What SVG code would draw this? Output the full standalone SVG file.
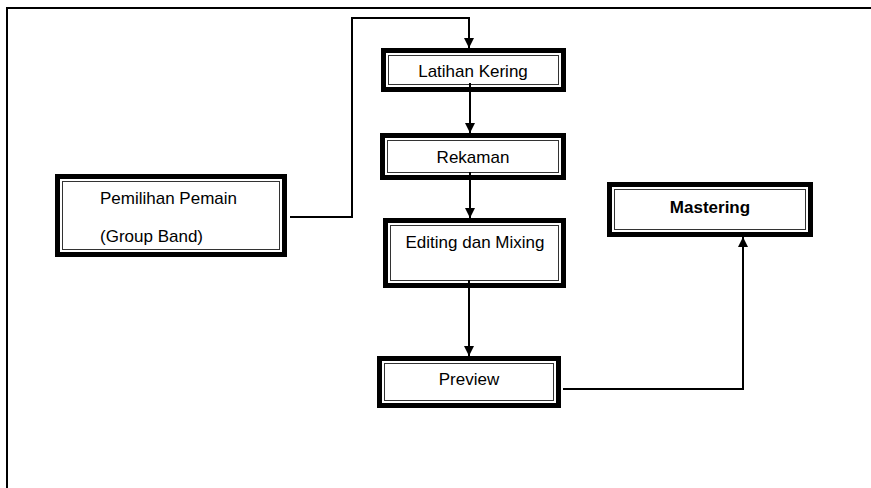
<svg xmlns="http://www.w3.org/2000/svg" width="871" height="488" viewBox="0 0 871 488">
<style>
.outer{fill:#000}
.gap{fill:#fff}
.inner{fill:#fff;stroke:#333;stroke-width:1}
.lbl{font-family:"Liberation Sans",Arial,sans-serif;font-size:17px;fill:#000}
.bold{font-weight:bold}
.conn{fill:none;stroke:#000;stroke-width:2}
.frame{fill:none;stroke:#000;stroke-width:2}
</style>
<defs>
<marker id="arr" viewBox="0 0 10 10" refX="10" refY="5" markerWidth="11" markerHeight="10" markerUnits="userSpaceOnUse" orient="auto">
<path d="M0,0 L10,5 L0,10 z" fill="#000"/>
</marker>
</defs>
<rect width="871" height="488" fill="#fff"/>
<path class="frame" d="M7,488 V8 H871"/>

<g id="latihan">
<rect class="outer" x="381" y="48" width="185" height="44"/>
<rect class="gap" x="386" y="53" width="175" height="34"/>
<rect class="inner" x="388.5" y="55.5" width="170" height="29"/>
<text class="lbl" x="473" y="77" text-anchor="middle">Latihan Kering</text>
</g>
<g id="rekaman">
<rect class="outer" x="380" y="133" width="186" height="47"/>
<rect class="gap" x="385" y="138" width="176" height="37"/>
<rect class="inner" x="387.5" y="140.5" width="171" height="32"/>
<text class="lbl" x="473" y="163" text-anchor="middle">Rekaman</text>
</g>
<g id="editing">
<rect class="outer" x="383" y="218" width="183" height="70"/>
<rect class="gap" x="388" y="223" width="173" height="60"/>
<rect class="inner" x="390.5" y="225.5" width="168" height="55"/>
<text class="lbl" x="475" y="248" text-anchor="middle">Editing dan Mixing</text>
</g>
<g id="pemilihan">
<rect class="outer" x="55" y="174" width="232" height="83"/>
<rect class="gap" x="60" y="179" width="222" height="73"/>
<rect class="inner" x="62.5" y="181.5" width="217" height="68"/>
<text class="lbl" x="100" y="204">Pemilihan Pemain</text>
<text class="lbl" x="100" y="242">(Group Band)</text>
</g>
<g id="preview">
<rect class="outer" x="377" y="356" width="184" height="52"/>
<rect class="gap" x="382" y="361" width="174" height="42"/>
<rect class="inner" x="384.5" y="363.5" width="169" height="37"/>
<text class="lbl" x="469" y="385" text-anchor="middle">Preview</text>
</g>
<g id="mastering">
<rect class="outer" x="607" y="182" width="206" height="55"/>
<rect class="gap" x="612" y="187" width="196" height="45"/>
<rect class="inner" x="614.5" y="189.5" width="191" height="40"/>
<text class="lbl bold" x="710" y="213" text-anchor="middle">Mastering</text>
</g>

<g id="connectors">
<path class="conn" d="M290,217 H352 V18 H469 V48" marker-end="url(#arr)"/>
<path class="conn" d="M470,83 V133" marker-end="url(#arr)"/>
<path class="conn" d="M470,172 V218" marker-end="url(#arr)"/>
<path class="conn" d="M469,280 V356" marker-end="url(#arr)"/>
<path class="conn" d="M563,389 H743 V237" marker-end="url(#arr)"/>
</g>
</svg>
